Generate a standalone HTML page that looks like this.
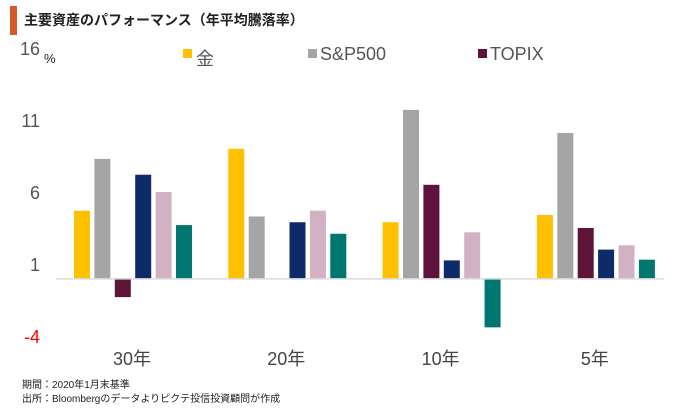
<!DOCTYPE html>
<html><head><meta charset="utf-8">
<style>
body{margin:0;background:#fff;width:687px;height:411px;overflow:hidden;font-family:"Liberation Sans","Noto Sans CJK JP",sans-serif;}
</style></head>
<body>
<svg id="chart" width="687" height="411" xmlns="http://www.w3.org/2000/svg" style="font-family:'Liberation Sans','Noto Sans CJK JP',sans-serif">
<rect x="10" y="6" width="7" height="29" fill="#d65a24"/>
<text x="24" y="25" font-size="14" font-weight="bold" fill="#222">主要資産のパフォーマンス（年平均騰落率）</text>
<text x="44" y="63" font-size="13" fill="#222">%</text>
<g id="legend">
<rect x="183" y="49" width="9" height="9" fill="#ffc000"/>
<text x="196" y="65" font-size="18" fill="#555">金</text>
<rect x="308" y="49" width="9" height="9" fill="#a5a5a5"/>
<text x="320" y="60" font-size="18" fill="#555">S&amp;P500</text>
<rect x="478" y="49" width="9" height="9" fill="#5e1338"/>
<text x="490" y="60" font-size="18" fill="#555">TOPIX</text>
</g>
<g id="yaxis"></g>
<g id="bars"></g>
<g id="xaxis"></g>
<text x="22" y="388" font-size="10" fill="#222">期間：2020年1月末基準</text>
<text x="22" y="402" font-size="10" fill="#222">出所：Bloombergのデータよりピクテ投信投資顧問が作成</text>
</svg>
<script>
const categories = ["30年","20年","10年","5年"];
const gold   = [4.7, 9.0, 3.9, 4.4];
const sp500  = [8.3, 4.3, 11.7, 10.1];
const topix  = [-1.3, 0, 6.5, 3.5];
const navy   = [7.2, 3.9, 1.25, 2.0];
const pink   = [6.0, 4.7, 3.2, 2.3];
const teal   = [3.7, 3.1, -3.4, 1.3];
const yTicks = [16, 11, 6, 1, -4];

const NS = "http://www.w3.org/2000/svg";
const y = v => 278.4 - v * 14.4;
const groupX = i => 56 + i * 154.3;
const series = [
  {name:"gold", data:gold, color:"#ffc000"},
  {name:"sp500", data:sp500, color:"#a5a5a5"},
  {name:"topix", data:topix, color:"#5e1338"},
  {name:"navy", data:navy, color:"#0e2a69"},
  {name:"pink", data:pink, color:"#d1b1c2"},
  {name:"teal", data:teal, color:"#007671"}
];
function mk(tag, attrs, parent){const e=document.createElementNS(NS,tag);for(const k in attrs)e.setAttribute(k,attrs[k]);parent.appendChild(e);return e;}
const ya = document.getElementById("yaxis");
yTicks.forEach(t=>{
  const el = mk("text",{x:40,y:y(t)+7,"font-size":18,fill:t<0?"#ff0000":"#555","text-anchor":"end"},ya);
  el.textContent = t;
  
  
});
const bars = document.getElementById("bars");
categories.forEach((c,i)=>{
  series.forEach((s,j)=>{
    const v = s.data[i];
    if(v===0) return;
    const x0 = groupX(i) + 18 + j*20.4;
    const r = mk("rect",{x:x0,y:Math.min(y(v),y(0)),width:16,height:Math.abs(y(v)-y(0)),fill:s.color},bars);
    
    
  });
  const lb = mk("text",{x:groupX(i)+76,y:365,"font-size":18,fill:"#444","text-anchor":"middle"},document.getElementById("xaxis"));
  lb.textContent = c;
  
  
});
const ax = mk("line",{x1:56,x2:664,y1:y(0)+0.5,y2:y(0)+0.5,stroke:"#d9d9d9","stroke-width":1.5},document.getElementById("xaxis"));


</script>
</body></html>
